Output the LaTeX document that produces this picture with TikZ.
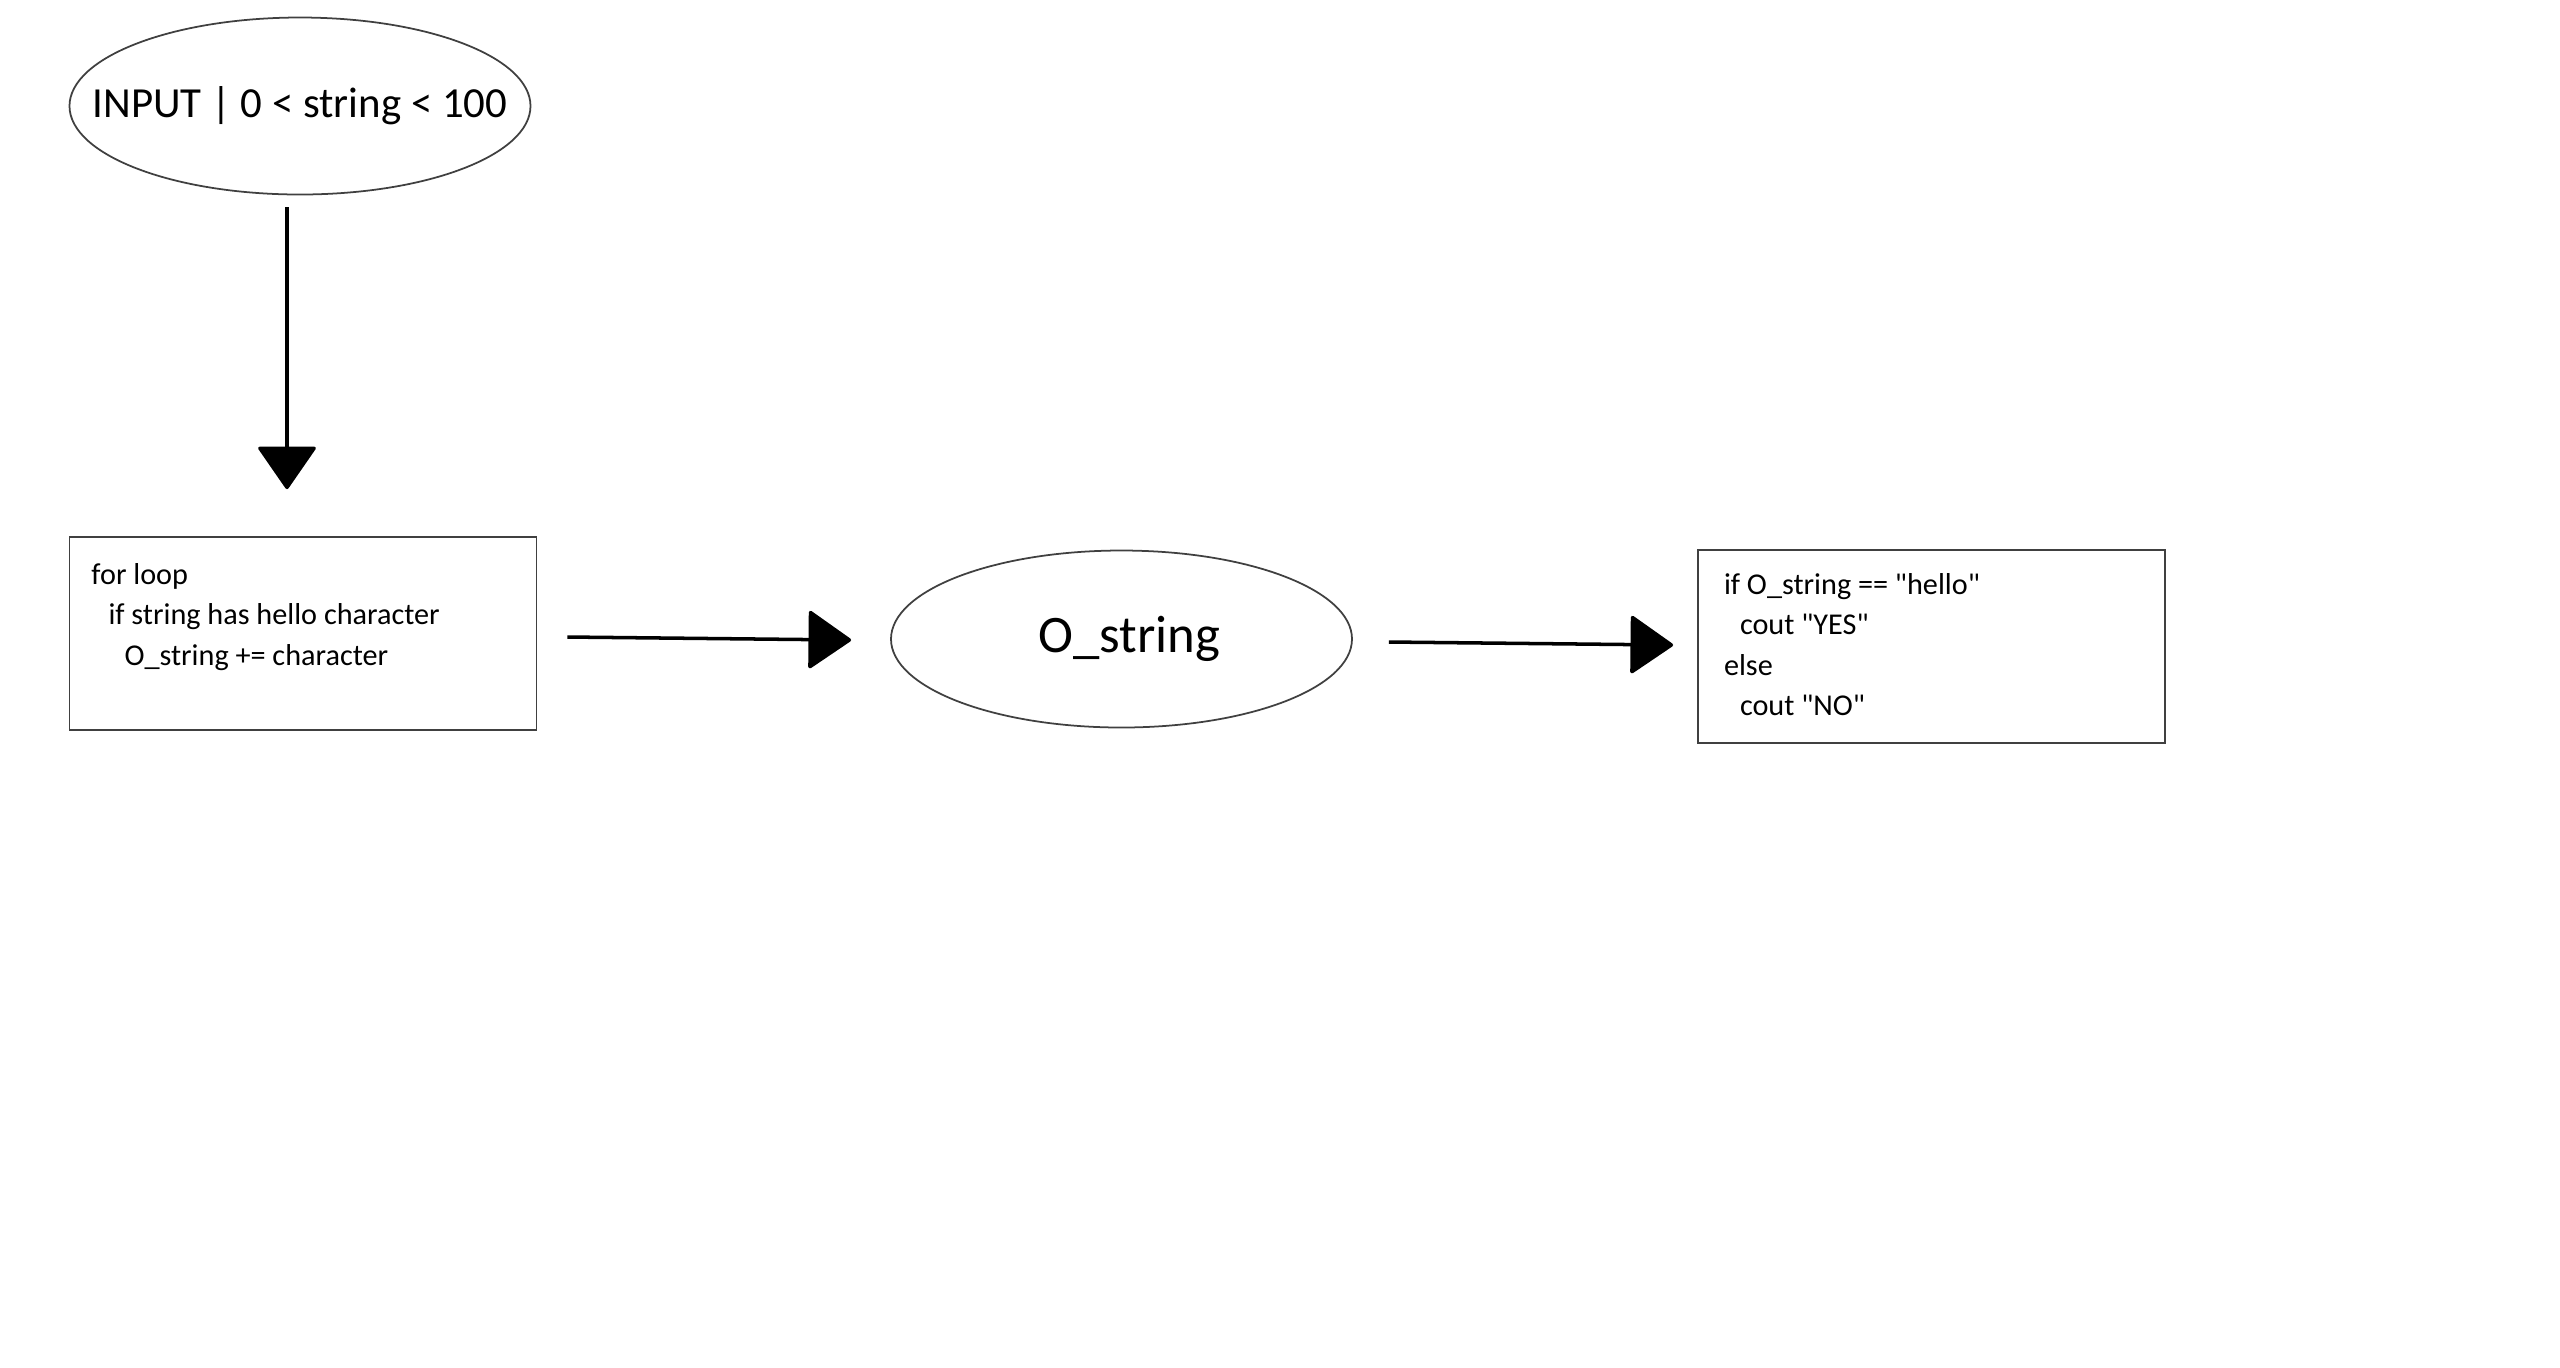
\documentclass[tikz,border=0pt]{standalone}
\usepackage{fontspec}
\setmainfont{Carlito}[Ligatures=TeXOff]
\usepackage{tikz}
\usetikzlibrary{shapes,
                arrows.meta,
                calc,
                positioning}
\tikzstyle{term} = [ellipse, draw=black!75, line width=0.5pt, minimum width=4.61cm, minimum height=1.77cm, inner sep=0pt]
\tikzstyle{codebox} = [rectangle, draw=black!75, line width=0.5pt, inner sep=0pt, font=\fontsize{8.6}{11.5}\selectfont]
\tikzstyle{arrow} = [line width=1pt, -{Triangle[width=0.6cm,length=0.44cm,round]}]
\newcommand{\codelines}[2]{\parbox[c][1.93cm][t]{4.67cm}{\setlength{\baselineskip}{0.405cm}\vspace*{#1}#2}}

\begin{document}
\begin{tikzpicture}[x=1cm,y=1cm]
\useasboundingbox (0,0) rectangle (25.6,-13.67);
% nodes
\node[term, font=\fontsize{12.2}{14}\selectfont] (input) at (3.00,-1.06) {\makebox[0pt]{INPUT | 0 < string < 100}};
\node[codebox] (loop) at (3.03,-6.335) {\codelines{7.4pt}{%
  \hspace*{0.22cm}for loop\\
  \hspace*{0.39cm}if string has hello character\\
  \hspace*{0.55cm}O\_string += character}};
\node[term, font=\fontsize{15}{18}\selectfont] (ostr) at (11.215,-6.39) {\makebox[0pt]{\hspace*{0.16cm}O\_string}};
\node[codebox] (check) at (19.315,-6.465) {\codelines{6.6pt}{%
  \hspace*{0.26cm}if O\_string == "hello"\\
  \hspace*{0.42cm}cout "YES"\\
  \hspace*{0.26cm}else\\
  \hspace*{0.42cm}cout "NO"}};
% arrows
\draw[arrow] ([xshift=-0.13cm,yshift=-0.12cm]input.south) -- ([xshift=-0.16cm,yshift=0.47cm]loop.north);
\draw[arrow] ([xshift=0.30cm,yshift=-0.035cm]loop.east) -- ([xshift=-0.39cm,yshift=-0.01cm]ostr.west);
\draw[arrow] ([xshift=0.36cm,yshift=-0.03cm]ostr.east) -- ([xshift=-0.24cm,yshift=0.015cm]check.west);
\end{tikzpicture}
\end{document}
